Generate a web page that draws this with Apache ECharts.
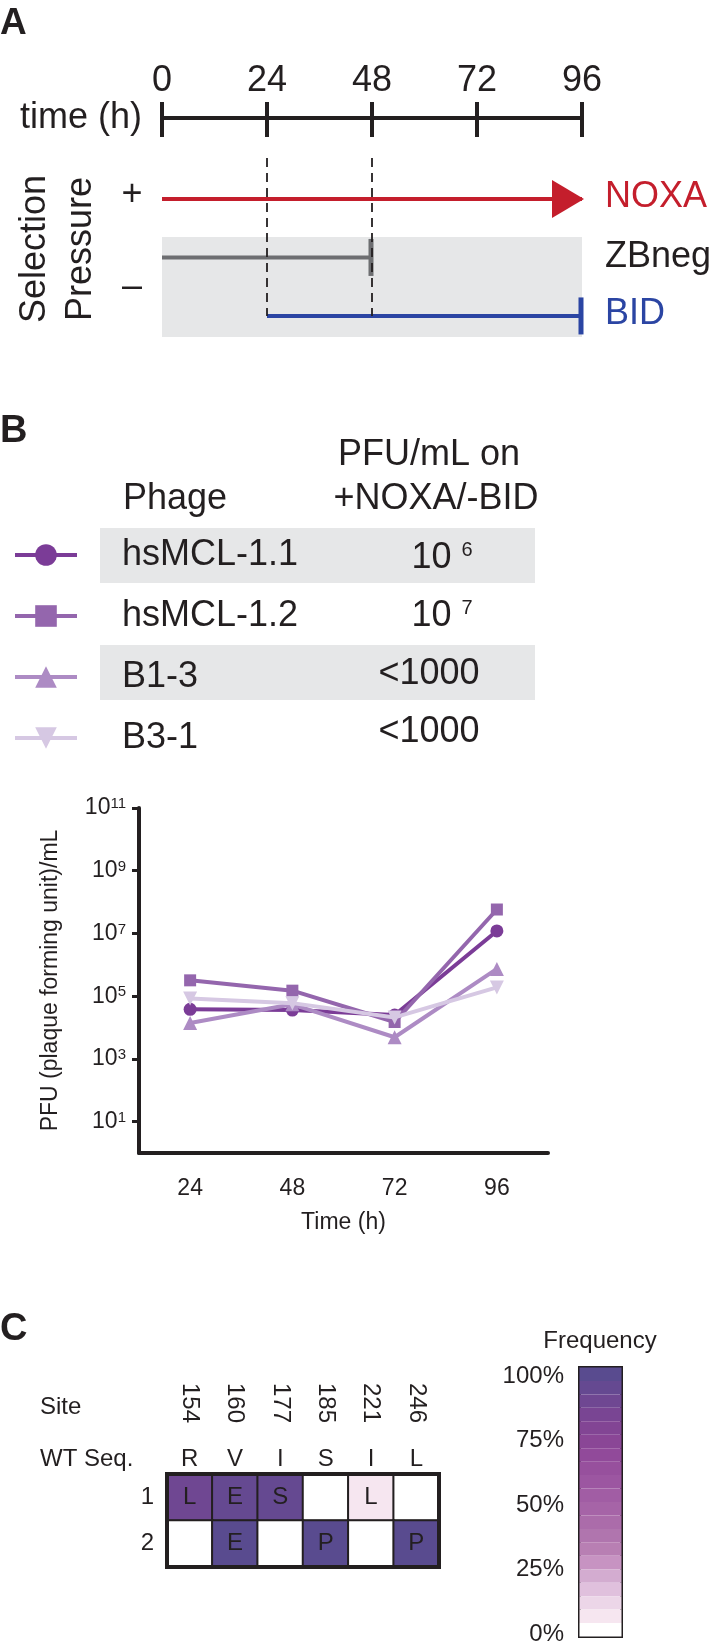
<!DOCTYPE html>
<html><head><meta charset="utf-8">
<script src="https://cdn.jsdelivr.net/npm/echarts@6/dist/echarts.min.js"></script>
<style>html,body{margin:0;padding:0;background:#fff}#c{width:715px;height:1650px}</style>
</head><body><div id="c"></div>
<script>
// ---------- Panel A: selection scheme ----------
const schemeRows = ['NOXA', 'ZBneg', 'BID'];
const schemeStart = [0, 0, 24];
const schemeEnd = [96, 48, 96];
const phaseMarks = [24, 48];
// ---------- Panel B ----------
const phages = ['hsMCL-1.1', 'hsMCL-1.2', 'B1-3', 'B3-1'];
const pfuOnNoxaBid = ['10^6', '10^7', '<1000', '<1000'];
const timePoints = ['24', '48', '72', '96'];
const pfuHsMCL11 = [3.8e4, 3.6e4, 2.5e4, 1.2e7];
const pfuHsMCL12 = [3.2e5, 1.5e5, 1.5e4, 5.8e7];
const pfuB13 = [1.4e4, 5.5e4, 4.9e3, 7.4e5];
const pfuB31 = [8.5e4, 6.0e4, 2.1e4, 1.9e5];
const yTickValues = [1e1, 1e3, 1e5, 1e7, 1e9, 1e11];
// ---------- Panel C ----------
const sites = ['154', '160', '177', '185', '221', '246'];
const wtSeq = ['R', 'V', 'I', 'S', 'I', 'L'];
const clones = ['1', '2'];
const freqClone1 = [87, 92, 93, 0, 6, 0];
const freqClone2 = [0, 97, 0, 97, 0, 97];
const mutClone1 = ['L', 'E', 'S', '', 'L', ''];
const mutClone2 = ['', 'E', '', 'P', '', 'P'];
const freqColors = ['#ffffff','#f6e6f0','#ecd6e8','#e0c0dd','#d3acd0','#c793c2','#b87fb3','#b075ae','#ab6caa','#a664a7','#a15da4','#9c56a1','#97509d','#914a9a','#8a4696','#824594','#794593','#6f4792','#654991','#594b8f'];

const FONT = "'Liberation Sans', Arial, Helvetica, sans-serif";
const INK = '#231f20';
const phageColors = ['#7b3c97', '#9466ad', '#ad8bc4', '#d6c8e3'];
const phageSymbols = ['circle', 'rect', 'triangle', 'path://M0,0L10,0L5,10Z'];
const phageSizes = [13, 12, 14, 14];
const schemeColors = ['#c41e2c', '#6d6e71', '#2b45a3'];
const GREY = '#e6e7e8';

const chart = echarts.init(document.getElementById('c'), null, {renderer: 'canvas'});

function T(text, x, y, opt) {
  opt = opt || {};
  return {
    type: 'text', x: x, y: y, rotation: opt.rotation || 0, z: 10,
    style: Object.assign({
      text: text, fill: opt.color || INK, fontSize: opt.size || 36,
      fontFamily: FONT, fontWeight: opt.bold ? 'bold' : 'normal',
      align: opt.align || 'left', verticalAlign: 'middle'
    }, opt.style || {})
  };
}
const supRich = {
  b: {fontSize: 36, lineHeight: 36, fontFamily: FONT, fill: INK, color: INK},
  s: {fontSize: 20, lineHeight: 20, fontFamily: FONT, fill: INK, color: INK, verticalAlign: 'top'}
};
function tableValue(v) {
  if (v.indexOf('^') >= 0) {
    const p = v.split('^');
    return '{b|' + p[0] + ' }{s|' + p[1] + '}';
  }
  return '{b|' + v + '}';
}

// heatmap data
const heatData = [];
const heatLetters = [];
[freqClone1, freqClone2].forEach((row, r) => {
  row.forEach((v, i) => { heatData.push([i, r, v]); heatLetters.push([mutClone1, mutClone2][r][i]); });
});
const pieces = freqColors.map((c, i) => (i === freqColors.length - 1 ? {gte: i * 5, lte: 100, color: c} : {gte: i * 5, lt: (i + 1) * 5, color: c}));

const rowY = [1, 2, 3];
const schemeSeries = schemeRows.map((name, k) => ({
  type: 'line', name: name, xAxisIndex: 0, yAxisIndex: 0, z: 3,
  data: [[schemeStart[k], rowY[k]], [schemeEnd[k], rowY[k]]],
  lineStyle: {color: schemeColors[k], width: 4},
  itemStyle: {color: schemeColors[k]},
  symbol: (v, p) => (p.dataIndex === 1 ? (k === 0 ? 'path://M0,0L10,5L0,10Z' : 'rect') : 'none'),
  symbolSize: k === 0 ? [32, 38] : [5, 37],
  symbolOffset: k === 0 ? [-14, 0] : [-1, 0],
  showSymbol: true, silent: true, animation: false
}));

const phageData = [pfuHsMCL11, pfuHsMCL12, pfuB13, pfuB31];
const phageSeries = phages.map((name, k) => ({
  type: 'line', name: name, xAxisIndex: 2, yAxisIndex: 1, z: 3 + k,
  data: phageData[k],
  symbol: phageSymbols[k], symbolSize: phageSizes[k],
  lineStyle: {color: phageColors[k], width: 4},
  itemStyle: {color: phageColors[k]},
  animation: false
}));

const graphics = [
  {type: 'rect', shape: {x: 100, y: 528, width: 435, height: 55}, style: {fill: GREY}, z: 0},
  {type: 'rect', shape: {x: 100, y: 645, width: 435, height: 55}, style: {fill: GREY}, z: 0},
  T('A', 0, 24, {bold: true, size: 37}),
  T('B', 0, 432, {bold: true, size: 38}),
  T('C', 0, 1330, {bold: true, size: 38}),
  T('+', 132, 195, {align: 'center'}),
  T('\u2013', 132, 287, {align: 'center'}),
  T('Selection\nPressure', 58, 249, {align: 'center', rotation: Math.PI / 2, style: {lineHeight: 46}}),
  T(schemeRows[0], 605, 197, {color: schemeColors[0]}),
  T(schemeRows[1], 605, 257, {color: INK}),
  T(schemeRows[2], 605, 314, {color: schemeColors[2]}),
  T('PFU/mL on', 429, 455, {align: 'center'}),
  T('+NOXA/-BID', 436, 499, {align: 'center'}),
  T('Phage', 123, 499),
  T('Site', 40, 1407, {size: 24}),
  T('WT Seq.', 40, 1459, {size: 24}),
  T('Frequency', 600, 1341, {size: 24, align: 'center'})
];
const rowCenters = [558, 616, 674, 732];
pfuOnNoxaBid.forEach((v, i) => {
  graphics.push(T(tableValue(v), v.indexOf('^') >= 0 ? 442 : 429, rowCenters[i], {align: 'center', style: {rich: supRich}}));
});

const option = {
  animation: false,
  backgroundColor: '#ffffff',
  textStyle: {fontFamily: FONT, color: INK},
  grid: [
    {left: 162, top: 158, width: 420, height: 179},
    {left: 139, top: 808, width: 409, height: 345},
    {left: 167, top: 1474, width: 272, height: 93, show: true, borderColor: INK, borderWidth: 4, backgroundColor: 'transparent', z: 5},
    {left: 578, top: 1376, width: 42, height: 258}
  ],
  xAxis: [
    {gridIndex: 0, type: 'value', position: 'top', offset: 40, min: 0, max: 96, interval: 24,
      axisLine: {show: true, lineStyle: {color: INK, width: 4}},
      axisTick: {show: true, inside: false, length: 16, lineStyle: {color: INK, width: 4}},
      axisLabel: {fontSize: 36, color: INK, margin: 19, fontFamily: FONT},
      splitLine: {show: false},
      name: 'time (h)', nameLocation: 'start', nameGap: 20,
      nameTextStyle: {fontSize: 36, color: INK, fontFamily: FONT, verticalAlign: 'middle'}},
    {gridIndex: 0, type: 'value', position: 'top', offset: 40, min: 0, max: 96, interval: 24,
      axisLine: {show: false}, axisLabel: {show: false}, splitLine: {show: false},
      axisTick: {show: true, inside: true, length: 19, lineStyle: {color: INK, width: 4}}},
    {gridIndex: 1, type: 'category', data: timePoints, boundaryGap: true,
      axisLine: {lineStyle: {color: INK, width: 4}},
      axisTick: {alignWithLabel: true, length: 12, lineStyle: {color: INK, width: 4}},
      axisLabel: {fontSize: 23, color: INK, margin: 24, fontFamily: FONT},
      name: 'Time (h)', nameLocation: 'middle', nameGap: 58,
      nameTextStyle: {fontSize: 23, color: INK, fontFamily: FONT}},
    {gridIndex: 2, type: 'category', data: sites, position: 'top',
      axisLine: {show: false}, axisTick: {show: false}, splitLine: {show: false},
      axisLabel: {rotate: 90, fontSize: 24, color: INK, margin: 51, fontFamily: FONT, interval: 0}},
    {gridIndex: 2, type: 'category', data: wtSeq, position: 'top',
      axisLine: {show: false}, axisTick: {show: false}, splitLine: {show: false},
      axisLabel: {fontSize: 24, color: INK, margin: 3, fontFamily: FONT, interval: 0}},
    {gridIndex: 3, type: 'value', show: false}
  ],
  yAxis: [
    {gridIndex: 0, type: 'value', show: false, inverse: true, min: 0.3, max: 3.36},
    {gridIndex: 1, type: 'log', logBase: 10, min: 1, max: 1e11,
      axisLine: {show: true, lineStyle: {color: INK, width: 4}},
      axisTick: {show: true, length: 7, lineStyle: {color: INK, width: 3}, customValues: yTickValues},
      minorTick: {show: false},
      splitLine: {show: false},
      axisLabel: {customValues: yTickValues, margin: 13,
        formatter: v => '{b|10}{s|' + Math.round(Math.log10(v)) + '}',
        rich: {b: {fontSize: 23, lineHeight: 23, color: INK, fontFamily: FONT},
               s: {fontSize: 15, lineHeight: 15, color: INK, fontFamily: FONT, verticalAlign: 'top'}}},
      name: 'PFU (plaque forming unit)/mL', nameLocation: 'middle', nameGap: 77,
      nameTextStyle: {fontSize: 23, color: INK, fontFamily: FONT}},
    {gridIndex: 2, type: 'category', data: clones, inverse: true,
      axisLine: {show: false}, axisTick: {show: false}, splitLine: {show: false},
      axisLabel: {fontSize: 24, color: INK, margin: 13, fontFamily: FONT}},
    {gridIndex: 3, type: 'value', min: 0, max: 100, interval: 25,
      axisLine: {show: false}, axisTick: {show: false}, splitLine: {show: false},
      axisLabel: {formatter: '{value}%', fontSize: 24, color: INK, margin: 14, fontFamily: FONT}}
  ],
  legend: {
    data: phages, orient: 'vertical', left: 13, top: 537, padding: 0,
    itemWidth: 62, itemHeight: 27, itemGap: 25, selectedMode: false,
    lineStyle: {width: 4},
    textStyle: {fontSize: 36, lineHeight: 36, color: INK, fontFamily: FONT, padding: [0, 0, 0, 40]}
  },
  visualMap: {
    type: 'piecewise', seriesIndex: 8, dimension: 2, pieces: pieces,
    orient: 'vertical', left: 578, top: 1366, itemWidth: 42, itemHeight: 269 / 20, itemGap: 0,
    itemSymbol: 'rect', showLabel: false, padding: 0, borderColor: INK, borderWidth: 3,
    selectedMode: false, hoverLink: false
  },
  series: [
    {type: 'line', xAxisIndex: 0, yAxisIndex: 0, z: 1, data: [[0, 1]], symbol: 'none',
      lineStyle: {opacity: 0}, silent: true,
      markArea: {silent: true, itemStyle: {color: GREY}, label: {show: false},
        data: [[{coord: [schemeStart[0], 1.65]}, {coord: [schemeEnd[0], 3.36]}]]},
      markLine: {silent: true, symbol: 'none', label: {show: false},
        lineStyle: {color: INK, width: 1.8, type: [9, 6]},
        data: phaseMarks.map(t => [{coord: [t, 0.3]}, {coord: [t, 3]}])}}
  ].concat(schemeSeries).concat(phageSeries).concat([
    {type: 'heatmap', xAxisIndex: 3, yAxisIndex: 2, data: heatData, z: 3,
      itemStyle: {borderColor: INK, borderWidth: 2},
      label: {show: true, fontSize: 24, color: INK, fontFamily: FONT,
        formatter: p => heatLetters[p.dataIndex]},
      emphasis: {disabled: true}}
  ]),
  graphic: graphics
};
chart.setOption(option);
</script></body></html>
